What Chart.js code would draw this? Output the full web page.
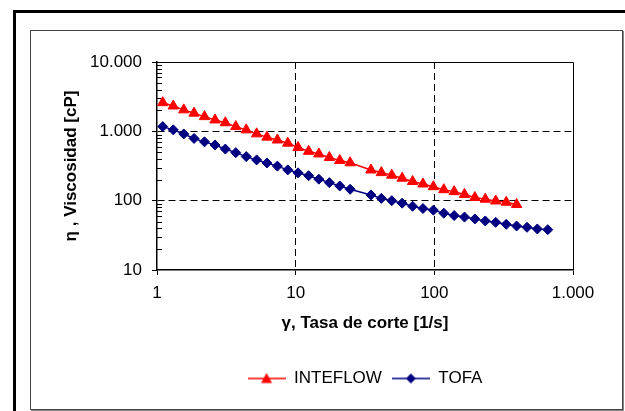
<!DOCTYPE html>
<html>
<head>
<meta charset="utf-8">
<script src="https://cdn.jsdelivr.net/npm/chart.js@4/dist/chart.umd.min.js"></script>
<style>
  html, body { margin: 0; padding: 0; background: #fff; }
  body { width: 625px; height: 411px; position: relative; overflow: hidden; }
  #marco { position: absolute; left: 13px; top: 10px; width: 700px; height: 500px; border-left: 3px solid #000; border-top: 3px solid #000; }
  #caja { position: absolute; left: 30px; top: 30px; width: 591px; height: 378px; border: 1px solid #444; box-shadow: 1px 1px 0 #888; }
  #grafico { position: absolute; left: 0; top: 0; }
</style>
</head>
<body>
<div id="marco"></div>
<div id="caja"></div>
<canvas id="grafico" width="625" height="411"></canvas>
<script>
// tasa de corte [1/s] (la misma rampa para los dos fluidos, TOFA llega mas lejos)
const tasaCorte = [1.10, 1.31, 1.56, 1.85, 2.20, 2.62, 3.11, 3.70, 4.40, 5.23,
  6.21, 7.38, 8.77, 10.4, 12.4, 14.7, 17.5, 20.8, 24.7, 34.9,
  41.5, 49.3, 58.6, 69.7, 82.8, 98.4, 117, 139, 165, 196,
  233, 277, 330, 392, 466, 553, 658];

// viscosidad [cP]
const viscInteflow = [2590, 2320, 2040, 1830, 1630, 1460, 1330, 1170, 1050, 920,
  825, 750, 675, 585, 515, 472, 420, 380, 352, 277,
  254, 233, 211, 189, 174, 159, 144, 135, 123, 111,
  105, 99, 95, 88];
const viscTofa = [1170, 1050, 917, 790, 705, 636, 555, 493, 432, 387,
  350, 315, 278, 252, 229, 204, 182, 163, 146, 121,
  108, 100, 92, 83, 77, 73, 66, 61, 58, 54.5,
  51, 48.7, 45.6, 43.1, 41.3, 39.1, 38.2];

const ticksX = [1, 10, 100, 1000];
const etiquetasX = ['1', '10', '100', '1.000'];
const ticksY = [10, 100, 1000, 10000];
const etiquetasY = ['10', '100', '1.000', '10.000'];

const fuente = "'Liberation Sans', Arial, sans-serif";
Chart.defaults.font.family = fuente;

function puntos(visc) {
  return visc.map((v, i) => ({ x: tasaCorte[i], y: v }));
}

// muestra de la leyenda: linea con el marcador en el medio
function muestra(color, forma) {
  const c = document.createElement('canvas');
  c.width = 38; c.height = 14;
  const g = c.getContext('2d');
  g.strokeStyle = color; g.fillStyle = color; g.lineWidth = 1.5;
  g.beginPath(); g.moveTo(0, 7); g.lineTo(38, 7); g.stroke();
  g.beginPath();
  if (forma === 'triangulo') {
    g.moveTo(19, 1.5); g.lineTo(24.5, 11.5); g.lineTo(13.5, 11.5);
  } else {
    g.moveTo(19, 2); g.lineTo(24, 7); g.lineTo(19, 12); g.lineTo(14, 7);
  }
  g.closePath(); g.fill();
  return c;
}
const muestras = [muestra('#ff0000', 'triangulo'), muestra('#000080', 'rombo')];

const marcoPlot = {
  id: 'marcoPlot',
  beforeDatasetsDraw(chart) {
    const { ctx, chartArea: a, scales: { y } } = chart;
    ctx.save();
    ctx.strokeStyle = '#000';
    ctx.lineWidth = 1;
    ctx.beginPath();
    ctx.moveTo(a.left, a.top + 0.5);
    ctx.lineTo(a.right + 0.5, a.top + 0.5);
    ctx.lineTo(a.right + 0.5, a.bottom);
    ctx.stroke();
    // marcas menores del eje y, hacia dentro
    ctx.beginPath();
    for (let d = 10; d < 10000; d *= 10) {
      for (let m = 2; m <= 9; m++) {
        const py = Math.round(y.getPixelForValue(m * d)) + 0.5;
        ctx.moveTo(a.left, py);
        ctx.lineTo(a.left + 5, py);
      }
    }
    ctx.stroke();
    ctx.restore();
  }
};

const gridInterior = (lim) => (c) =>
  (c.tick && c.tick.value > lim[0] && c.tick.value < lim[1]) ? '#000' : 'rgba(0,0,0,0)';

new Chart(document.getElementById('grafico'), {
  type: 'scatter',
  data: {
    datasets: [
      {
        label: 'INTEFLOW',
        data: puntos(viscInteflow),
        showLine: true,
        borderColor: '#ff0000',
        backgroundColor: '#ff0000',
        borderWidth: 1.5,
        pointStyle: 'triangle',
        pointRadius: 6,
        pointBorderWidth: 1,
      },
      {
        label: 'TOFA',
        data: puntos(viscTofa),
        showLine: true,
        borderColor: '#000080',
        backgroundColor: '#000080',
        borderWidth: 1.5,
        pointStyle: 'rectRot',
        pointRadius: 5,
        pointBorderWidth: 1,
      },
    ],
  },
  options: {
    responsive: false,
    animation: false,
    layout: { padding: { left: 50, right: 52, top: 62, bottom: 14 } },
    plugins: {
      tooltip: { enabled: false },
      legend: {
        position: 'bottom',
        fullSize: false,
        labels: {
          usePointStyle: true,
          pointStyleWidth: 38,
          padding: 10,
          color: '#000',
          font: { size: 17 },
          generateLabels: (chart) => chart.data.datasets.map((ds, i) => ({
            text: ds.label,
            pointStyle: muestras[i],
            fontColor: '#000',
            fillStyle: 'transparent',
            strokeStyle: 'transparent',
            lineWidth: 0,
            hidden: false,
            datasetIndex: i,
          })),
        },
      },
    },
    scales: {
      x: {
        type: 'logarithmic',
        position: 'bottom',
        min: 1,
        max: 1000,
        afterBuildTicks: (s) => { s.ticks = ticksX.map((v) => ({ value: v })); },
        afterFit: (s) => { s.height = 90; },
        ticks: {
          callback: (v, i) => etiquetasX[i],
          color: '#000',
          font: { size: 17 },
          padding: 8,
          autoSkip: false,
          maxRotation: 0,
        },
        grid: { color: gridInterior([1, 1000]), tickColor: '#000', tickLength: 5, lineWidth: 1 },
        border: { color: '#000', width: 1.5, dash: [7, 4] },
        title: {
          display: true,
          text: 'γ, Tasa de corte [1/s]',
          color: '#000',
          font: { size: 17, weight: 'bold' },
          padding: { top: 0, bottom: 26 },
        },
      },
      y: {
        type: 'logarithmic',
        min: 10,
        max: 10000,
        afterBuildTicks: (s) => { s.ticks = ticksY.map((v) => ({ value: v })); },
        afterFit: (s) => { s.width = 107; },
        ticks: {
          callback: (v, i) => etiquetasY[i],
          color: '#000',
          font: { size: 17 },
          padding: 10,
          autoSkip: false,
        },
        grid: { color: gridInterior([10, 10000]), tickColor: '#000', tickLength: 5, lineWidth: 1 },
        border: { color: '#000', width: 1.5, dash: [7, 4] },
        title: {
          display: true,
          text: 'η , Viscosidad [cP]',
          color: '#000',
          font: { size: 17, weight: 'bold' },
          padding: { top: 11, bottom: 0 },
        },
      },
    },
  },
  plugins: [marcoPlot],
});
</script>
</body>
</html>
